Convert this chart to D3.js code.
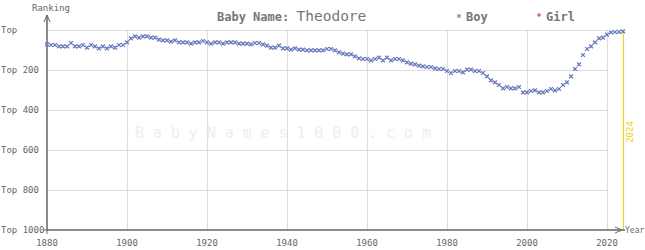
<!DOCTYPE html>
<html>
<head>
<meta charset="utf-8">
<script src="https://cdn.jsdelivr.net/npm/d3@7"></script>
<style>
  body { margin: 0; background: #fff; }
  text { font-family: "DejaVu Sans Mono", monospace; }
</style>
</head>
<body>
<div id="container"></div>
<script>
// Theodore, boy ranks by year
const years = d3.range(1880, 2025);
const boyRanks = [
  72, 75, 75, 82, 82, 82, 65, 82, 82, 75,
  88, 75, 82, 92, 82, 92, 82, 88, 75, 75,
  62, 42, 32, 38, 32, 32, 38, 38, 48, 52,
  52, 58, 52, 62, 62, 62, 68, 62, 62, 55,
  62, 68, 62, 62, 68, 62, 62, 62, 68, 68,
  68, 72, 65, 65, 72, 78, 88, 88, 78, 92,
  92, 98, 92, 98, 98, 102, 102, 102, 102, 102,
  95, 95, 102, 112, 118, 122, 122, 132, 142, 145,
  145, 152, 145, 138, 152, 138, 152, 145, 145, 152,
  162, 168, 172, 178, 182, 185, 185, 192, 195, 195,
  205, 215, 205, 205, 212, 198, 198, 205, 205, 215,
  232, 252, 262, 275, 292, 285, 292, 292, 285, 312,
  312, 305, 302, 312, 312, 305, 295, 302, 295, 275,
  262, 232, 195, 172, 125, 95, 82, 62, 42, 38,
  23, 12, 10, 9, 7
];
const rankTicks = [0, 200, 400, 600, 800, 1000];
const yearTicks = [1880, 1900, 1920, 1940, 1960, 1980, 2000, 2020];
const latestYear = 2024;

const W = 645, H = 250;
const svg = d3.select("#container").append("svg")
  .attr("width", W).attr("height", H);

const x = d3.scaleLinear().domain([1880, 2024]).range([47, 623]);
const y = d3.scaleLinear().domain([0, 1000]).range([30, 230]);

const grid = "#dddddd", axisCol = "#666666", textCol = "#666666";

// gridlines
svg.append("g").selectAll("line")
  .data(rankTicks.slice(0, -1))
  .enter().append("line")
  .attr("x1", x(1880)).attr("x2", x(2020))
  .attr("y1", d => y(d) + 0.5).attr("y2", d => y(d) + 0.5)
  .attr("stroke", grid).attr("stroke-width", 1.2);
svg.append("g").selectAll("line")
  .data(yearTicks.slice(1))
  .enter().append("line")
  .attr("x1", d => x(d) + 0.5).attr("x2", d => x(d) + 0.5)
  .attr("y1", y(0)).attr("y2", y(1000))
  .attr("stroke", grid).attr("stroke-width", 1.2);

// watermark
svg.append("text")
  .attr("x", 135).attr("y", 138)
  .attr("font-size", 15)
  .attr("letter-spacing", "8.9px")
  .attr("fill", "#eeeeee")
  .text("BabyNames1000.com");

// latest year marker
svg.append("line")
  .attr("x1", x(latestYear) + 0.5).attr("x2", x(latestYear) + 0.5)
  .attr("y1", y(0)).attr("y2", y(1000))
  .attr("stroke", "#f2d020").attr("stroke-width", 1.2);
svg.append("text")
  .attr("transform", `translate(${x(latestYear) + 10},${y(510)}) rotate(-90)`)
  .attr("text-anchor", "middle")
  .attr("font-size", 9).attr("fill", "#f2d020")
  .text(latestYear);

// axes
const axisG = svg.append("g");
axisG.append("line")
  .attr("x1", x(1880)).attr("x2", x(1880))
  .attr("y1", 15).attr("y2", y(1000) + 1)
  .attr("stroke", axisCol).attr("stroke-width", 1.5);
axisG.append("path")
  .attr("d", `M${x(1880) - 3},22 L${x(1880)},15 L${x(1880) + 3},22`)
  .attr("fill", "none").attr("stroke", axisCol).attr("stroke-width", 1);
axisG.append("line")
  .attr("x1", x(1880)).attr("x2", 625)
  .attr("y1", y(1000)).attr("y2", y(1000))
  .attr("stroke", axisCol).attr("stroke-width", 1.5);
axisG.append("path")
  .attr("d", `M615,227 L622,230 L615,233`)
  .attr("fill", "none").attr("stroke", axisCol).attr("stroke-width", 1);

axisG.selectAll(".ytick").data(rankTicks).enter().append("line")
  .attr("x1", x(1880) - 4).attr("x2", x(1880))
  .attr("y1", d => y(d)).attr("y2", d => y(d))
  .attr("stroke", d => d === 1000 ? axisCol : "none");
axisG.selectAll(".xtick").data(yearTicks).enter().append("line")
  .attr("x1", d => x(d)).attr("x2", d => x(d))
  .attr("y1", y(1000)).attr("y2", y(1000) + 4)
  .attr("stroke", d => d === 1880 ? axisCol : "none");

axisG.selectAll(".ylab").data(rankTicks).enter().append("text")
  .attr("x", 1).attr("y", d => y(d) + 3)
  .attr("font-size", 9).attr("fill", textCol)
  .text(d => d === 0 ? "Top" : "Top " + d);
axisG.selectAll(".xlab").data(yearTicks).enter().append("text")
  .attr("x", d => x(d)).attr("y", 246)
  .attr("text-anchor", "middle")
  .attr("font-size", 9).attr("fill", textCol)
  .text(d => d);

svg.append("text").attr("x", 32).attr("y", 11)
  .attr("font-size", 9).attr("fill", textCol).text("Ranking");
svg.append("text").attr("x", 625).attr("y", 233)
  .attr("font-size", 8).attr("fill", textCol).text("Year");

// title + legend
const title = svg.append("text").attr("x", 217).attr("y", 21)
  .attr("fill", "#777777");
title.append("tspan").attr("font-size", 12).attr("font-weight", "bold").text("Baby Name: ");
title.append("tspan").attr("font-size", 14.5).text("Theodore");

const boyCol = "#6a7bbf", girlCol = "#c04070";
const cross = s => `M${-s},${-s}L${s},${s}M${-s},${s}L${s},${-s}`;
const plus = s => `M${-s},0L${s},0M0,${-s}L0,${s}`;

svg.append("path").attr("d", cross(1.7))
  .attr("transform", "translate(459,16)")
  .attr("stroke", boyCol).attr("stroke-width", 1.1);
svg.append("text").attr("x", 466).attr("y", 21)
  .attr("font-size", 12).attr("font-weight", "bold").attr("fill", "#777777").text("Boy");
svg.append("path").attr("d", plus(2))
  .attr("transform", "translate(539,15)")
  .attr("stroke", girlCol).attr("stroke-width", 1.1);
svg.append("text").attr("x", 546).attr("y", 21)
  .attr("font-size", 12).attr("font-weight", "bold").attr("fill", "#777777").text("Girl");

// data points
svg.append("g").selectAll("path")
  .data(years.map((yr, i) => ({ yr, rank: boyRanks[i] })))
  .enter().append("path")
  .attr("d", cross(1.9))
  .attr("transform", d => `translate(${x(d.yr)},${y(d.rank)})`)
  .attr("stroke", boyCol).attr("stroke-width", 1.3);
</script>
</body>
</html>
